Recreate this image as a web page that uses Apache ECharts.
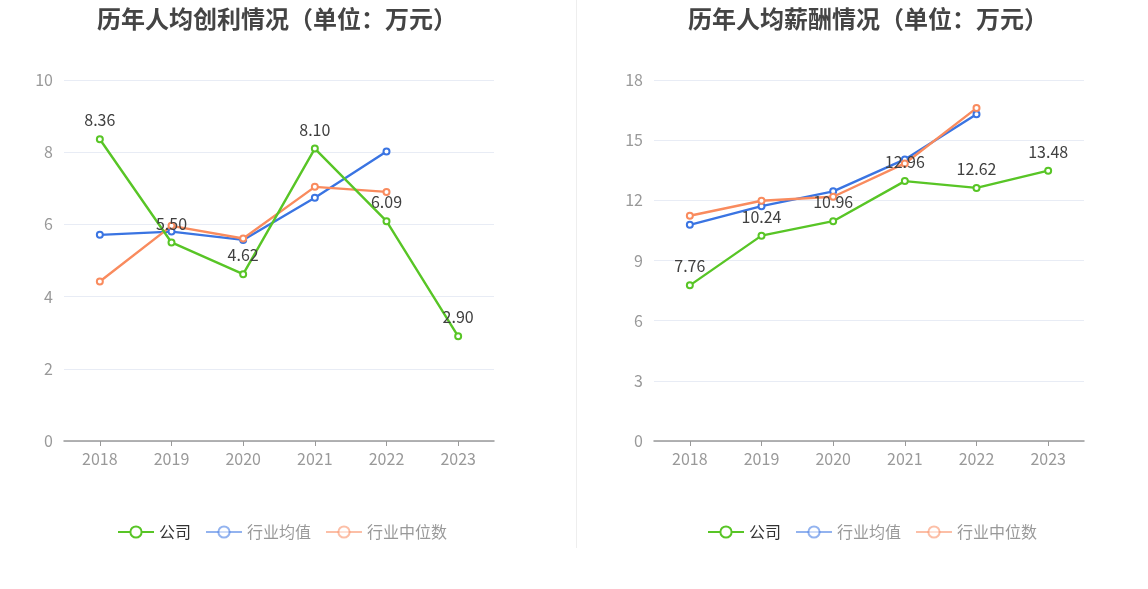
<!DOCTYPE html>
<html><head><meta charset="utf-8">
<script src="https://cdn.jsdelivr.net/npm/echarts@6/dist/echarts.min.js"></script>
<style>html,body{margin:0;padding:0;background:#fff}#c{width:1148px;height:589px}</style>
</head><body><div id="c"></div>
<script>
const years = ['2018','2019','2020','2021','2022','2023'];
const seriesNames = ['公司','行业均值','行业中位数'];
// left: 人均创利
const profitCompany = [8.36, 5.50, 4.62, 8.10, 6.09, 2.90];
const profitAvg = [5.71, 5.80, 5.57, 6.74, 8.02, null];
const profitMedian = [4.42, 5.96, 5.61, 7.04, 6.90, null];
// right: 人均薪酬
const salaryCompany = [7.76, 10.24, 10.96, 12.96, 12.62, 13.48];
const salaryAvg = [10.78, 11.71, 12.45, 14.04, 16.29, null];
const salaryMedian = [11.23, 11.98, 12.18, 13.84, 16.60, null];
const titles = ['历年人均创利情况（单位：万元）','历年人均薪酬情况（单位：万元）'];

const colors = ['#58c526','#3a74e2','#f98b5e'];
const font = '"Noto Sans CJK SC", sans-serif';

function mkSeries(name, data, idx, color, showLabel) {
  return {
    name, type: 'line', data, xAxisIndex: idx, yAxisIndex: idx,
    symbol: 'emptyCircle', symbolSize: 6, connectNulls: false,
    lineStyle: {width: 2.4, color}, itemStyle: {color, borderWidth: 2},
    label: showLabel ? {show: true, position: 'top', distance: 7, color: '#404040', fontSize: 16, fontFamily: font,
      formatter: p => p.value.toFixed(2)} : {show: false},
    z: showLabel ? 3 : 2
  };
}
function legendData() {
  return [
    {name: seriesNames[0], textStyle: {color: '#333'}},
    {name: seriesNames[1], itemStyle: {opacity: 0.55}, lineStyle: {opacity: 0.55}, textStyle: {color: '#999'}},
    {name: seriesNames[2], itemStyle: {opacity: 0.55}, lineStyle: {opacity: 0.55}, textStyle: {color: '#999'}}
  ];
}
const axisLabel = {color: '#999', fontSize: 16, fontFamily: font};
const chart = echarts.init(document.getElementById('c'));
const legendCommon = {itemWidth: 36, itemHeight: 14, itemGap: 14, width: 500, orient: 'horizontal',
  textStyle: {fontSize: 16, fontFamily: font}, selectedMode: false};
chart.setOption({
  animation: false,
  color: colors,
  title: [
    {text: titles[0], left: 272, top: 2, textAlign: 'center', textStyle: {fontSize: 24, fontWeight: 'bold', color: '#444', fontFamily: font}},
    {text: titles[1], left: 863, top: 2, textAlign: 'center', textStyle: {fontSize: 24, fontWeight: 'bold', color: '#444', fontFamily: font}}
  ],
  legend: [
    Object.assign({data: legendData(), left: 112, top: 519}, legendCommon),
    Object.assign({data: legendData(), left: 702, top: 519}, legendCommon)
  ],
  graphic: [{type: 'line', shape: {x1: 576.5, y1: 0, x2: 576.5, y2: 548}, style: {stroke: '#eeeeee', lineWidth: 1}}],
  grid: [
    {left: 64, width: 430, top: 80, height: 361},
    {left: 654, width: 430, top: 80, height: 361}
  ],
  xAxis: [0,1].map(i => ({
    type: 'category', gridIndex: i, data: years, boundaryGap: true,
    axisLine: {lineStyle: {color: '#999', width: 1.5}},
    axisTick: {show: true, alignWithLabel: true, lineStyle: {color: '#999'}},
    axisLabel: Object.assign({margin: 10}, axisLabel)
  })),
  yAxis: [
    {type: 'value', gridIndex: 0, min: 0, max: 10, interval: 2, axisLabel: Object.assign({margin: 11}, axisLabel),
      axisLine: {show: false}, axisTick: {show: false}, splitLine: {lineStyle: {color: '#e8ecf5'}}},
    {type: 'value', gridIndex: 1, min: 0, max: 18, interval: 3, axisLabel: Object.assign({margin: 11}, axisLabel),
      axisLine: {show: false}, axisTick: {show: false}, splitLine: {lineStyle: {color: '#e8ecf5'}}}
  ],
  series: [
    mkSeries(seriesNames[1], profitAvg, 0, colors[1], false),
    mkSeries(seriesNames[2], profitMedian, 0, colors[2], false),
    mkSeries(seriesNames[0], profitCompany, 0, colors[0], true),
    mkSeries(seriesNames[1], salaryAvg, 1, colors[1], false),
    mkSeries(seriesNames[2], salaryMedian, 1, colors[2], false),
    mkSeries(seriesNames[0], salaryCompany, 1, colors[0], true)
  ]
});
</script></body></html>
